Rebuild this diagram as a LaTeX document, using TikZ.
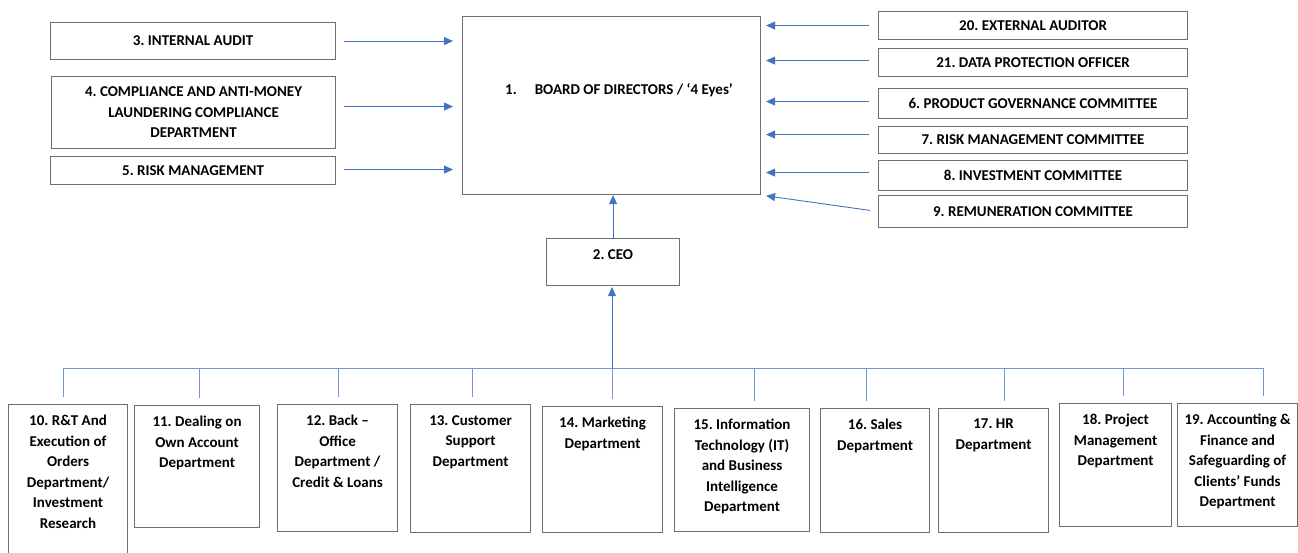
\documentclass[tikz,border=0pt]{standalone}
\usepackage{fontspec}
\setmainfont{Carlito}
\usetikzlibrary{arrows.meta,positioning}
\definecolor{arrowblue}{HTML}{4472C4}
\definecolor{boxgray}{HTML}{6E6E6E}

\begin{document}
\begin{tikzpicture}[x=1pt, y=-1pt,
	every node/.style={font=\fontsize{15}{20.5}\selectfont\bfseries\frenchspacing},
	box/.style={draw=boxgray, line width=1.1pt, inner sep=0pt, anchor=north west, align=center},
	toptext/.style={anchor=north, inner sep=0pt, yshift=-11pt, align=center},
	arr/.style={arrowblue, line width=0.9pt, -{Triangle[length=9pt, width=8pt]}},
	busline/.style={arrowblue!75!white, line width=0.9pt}]
	\useasboundingbox (0,0) rectangle (1298,553);

	% board and CEO
	\node[box, minimum width=298pt, minimum height=178pt] (board) at (462,16) {};
	\node (boardtitle) at (619,90) {1.\hspace{18pt}BOARD OF DIRECTORS / ‘4 Eyes’};
	\node[box, minimum width=133pt, minimum height=47pt, label={[toptext]north:2. CEO}] (ceo) at (546,238) {};

	% left side
	\node[box, minimum width=285pt, minimum height=37pt] (audit) at (50,22) {3. INTERNAL AUDIT};
	\node[box, minimum width=284pt, minimum height=72pt] (aml) at (51,76) {4. COMPLIANCE AND ANTI-MONEY\\LAUNDERING COMPLIANCE\\DEPARTMENT};
	\node[box, minimum width=285pt, minimum height=28pt] (riskmgmt) at (50,156) {5. RISK MANAGEMENT};

	% right side
	\node[box, minimum width=309pt, minimum height=28pt] (extaud) at (878,11) {20. EXTERNAL AUDITOR};
	\node[box, minimum width=309pt, minimum height=28pt] (dpo) at (878,48) {21. DATA PROTECTION OFFICER};
	\node[box, minimum width=309pt, minimum height=30pt] (pgc) at (878,88) {6. PRODUCT GOVERNANCE COMMITTEE};
	\node[box, minimum width=309pt, minimum height=27pt] (rmc) at (878,126) {7. RISK MANAGEMENT COMMITTEE};
	\node[box, minimum width=309pt, minimum height=30pt] (invc) at (878,160) {8. INVESTMENT COMMITTEE};
	\node[box, minimum width=309pt, minimum height=32pt] (remc) at (878,195) {9. REMUNERATION COMMITTEE};

	% departments
	\node[box, minimum width=119pt, minimum height=170pt, label={[toptext]north:10. R\&T And\\Execution of\\Orders\\Department/\\Investment\\Research}] (rt) at (8,404) {};
	\node[box, minimum width=125pt, minimum height=122pt, label={[toptext]north:11. Dealing on\\Own Account\\Department}] (doa) at (134,405) {};
	\node[box, minimum width=120pt, minimum height=127pt, label={[toptext]north:12. Back –\\Office\\Department /\\Credit \& Loans}] (bo) at (277,404) {};
	\node[box, minimum width=120pt, minimum height=128pt, label={[toptext]north:13. Customer\\Support\\Department}] (cs) at (410,404) {};
	\node[box, minimum width=120pt, minimum height=126pt, label={[toptext]north:14. Marketing\\Department}] (mkt) at (542,406) {};
	\node[box, minimum width=135pt, minimum height=123pt, label={[toptext]north:15. Information\\Technology (IT)\\and Business\\Intelligence\\Department}] (it) at (674,408) {};
	\node[box, minimum width=109pt, minimum height=124pt, label={[toptext]north:16. Sales\\Department}] (sales) at (820,408) {};
	\node[box, minimum width=110pt, minimum height=124pt, label={[toptext]north:17. HR\\Department}] (hr) at (938,408) {};
	\node[box, minimum width=112pt, minimum height=123pt, label={[toptext]north:18. Project\\Management\\Department}] (pm) at (1059,403) {};
	\node[box, minimum width=120pt, minimum height=123pt, label={[toptext]north:19. Accounting \&\\Finance and\\Safeguarding of\\Clients’ Funds\\Department}] (acc) at (1177,403) {};

	% arrows into the board
	\foreach \nm/\dy in {audit/0, aml/6, riskmgmt/1} {
		\coordinate (\nm-out) at ([yshift=\dy pt]\nm.east);
		\draw[arr, shorten <=8pt, shorten >=9pt] (\nm-out) -- (\nm-out -| board.west);
	}
	\foreach \nm/\dy in {extaud/0, dpo/2, pgc/2, rmc/5.5, invc/3} {
		\coordinate (\nm-out) at ([yshift=\dy pt]\nm.west);
		\draw[arr, shorten <=9pt, shorten >=5pt] (\nm-out) -- (\nm-out -| board.east);
	}
	\draw[arr, shorten <=8pt, shorten >=5pt] (remc.west) -- (board.south east);
	\draw[arr] (ceo.north) -- (ceo.north |- board.south);

	% bus to the departments
	\coordinate (bushub) at (612,368);
	\coordinate (busL) at (63,368);
	\coordinate (busR) at (1263,368);
	\draw[busline] (busL) -- (busR);
	\draw[arr, shorten >=1pt] (bushub) -- (bushub |- ceo.south);
	\foreach \xx/\nm in {63/rt, 199/doa, 338/bo, 472/cs, 612/mkt, 754/it, 866/sales, 1004/hr, 1123/pm, 1263/acc} {
		\coordinate (drop-\nm) at (\xx,368);
		\draw[busline, shorten >=7pt] (drop-\nm) -- (drop-\nm |- \nm.north);
	}
\end{tikzpicture}
\end{document}
